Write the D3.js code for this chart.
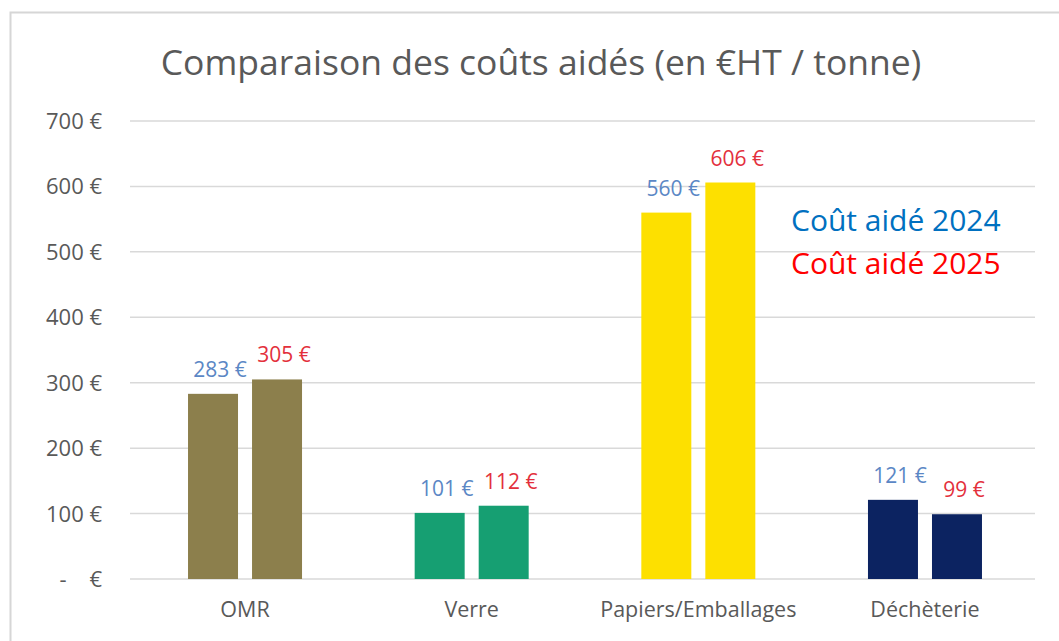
<!DOCTYPE html>
<html>
<head>
<meta charset="utf-8">
<script src="https://cdn.jsdelivr.net/npm/d3@7"></script>
<style>
  html, body { margin: 0; padding: 0; background: #fff; }
  svg { display: block; }
  text { font-family: "Open Sans", "Noto Sans", sans-serif; }
</style>
</head>
<body>
<svg id="chart" width="1059" height="641"></svg>
<script>
// Aided cost per tonne (€ HT), by waste stream
const categories = ["OMR", "Verre", "Papiers/Emballages", "Déchèterie"];
const values2024 = [283, 101, 560, 121];
const values2025 = [305, 112, 606, 99];
const seriesNames = ["Coût aidé 2024", "Coût aidé 2025"];
const yTicks = [0, 100, 200, 300, 400, 500, 600, 700];
const barColors = ["#8c7f4c", "#169f72", "#fde000", "#0c2361"];
const labelColors = ["#5b87c5", "#e3303c"];
const legendColors = ["#0070c0", "#ff0000"];

const svg = d3.select("#chart");
const W = 1059, H = 641;
const plot = { left: 130, right: 1040, gridRight: 1035, top: 121, bottom: 579 };

// outer chart frame
svg.append("rect")
  .attr("x", 10.5).attr("y", 12.5)
  .attr("width", 1070).attr("height", 660)
  .attr("fill", "#fff").attr("stroke", "#d6d6d6").attr("stroke-width", 2);

const x = d3.scaleBand()
  .domain(categories)
  .range([plot.left, plot.right])
  .paddingInner(0.497).paddingOuter(0.256);

const x1 = d3.scaleBand()
  .domain([0, 1])
  .range([0, x.bandwidth()])
  .paddingInner(0.219);

const y = d3.scaleLinear()
  .domain([0, 700])
  .range([plot.bottom, plot.top]);

// gridlines
svg.append("g")
  .selectAll("line")
  .data(yTicks)
  .join("line")
  .attr("x1", plot.left).attr("x2", plot.gridRight)
  .attr("y1", d => y(d)).attr("y2", d => y(d))
  .attr("stroke", "#d9d9d9").attr("stroke-width", 1.5);

// y axis labels (accounting format)
const yAxis = svg.append("g")
  .attr("transform", `translate(102,0)`)
  .call(d3.axisLeft(y).tickValues(yTicks).tickSize(0).tickPadding(0)
    .tickFormat(d => d === 0 ? "-    €" : d + " €"));
yAxis.select(".domain").remove();
yAxis.selectAll("text")
  .attr("fill", "#595959")
  .attr("dy", "0.34em")
  .style("font-size", "22px")
  .style("font-family", "'Open Sans', sans-serif")
  .style("white-space", "pre");

// x axis category labels
const xAxis = svg.append("g")
  .attr("transform", `translate(0,${plot.bottom})`)
  .call(d3.axisBottom(x).tickSize(0).tickPadding(23));
xAxis.select(".domain").remove();
xAxis.selectAll("text")
  .attr("fill", "#595959")
  .style("font-size", "21.5px")
  .style("font-family", "'Open Sans', sans-serif");

// bars
const rows = categories.map((c, i) => ({
  cat: c, idx: i, vals: [values2024[i], values2025[i]]
}));

const groups = svg.append("g")
  .selectAll("g")
  .data(rows)
  .join("g")
  .attr("transform", d => `translate(${x(d.cat)},0)`);

groups.selectAll("rect")
  .data(d => d.vals.map((v, s) => ({ v, s, idx: d.idx })))
  .join("rect")
  .attr("x", d => x1(d.s))
  .attr("width", x1.bandwidth())
  .attr("y", d => y(d.v))
  .attr("height", d => y(0) - y(d.v))
  .attr("fill", d => barColors[d.idx]);

// value labels
groups.selectAll("text.val")
  .data(d => d.vals.map((v, s) => ({ v, s, idx: d.idx })))
  .join("text")
  .attr("class", "val")
  .attr("x", d => x1(d.s) + x1.bandwidth() / 2 + 7)
  .attr("y", d => y(d.v) - 17)
  .attr("text-anchor", "middle")
  .attr("fill", d => labelColors[d.s])
  .style("font-size", "21px")
  .text(d => d.v + " €");

// title
svg.append("text")
  .attr("x", 541).attr("y", 75)
  .attr("text-anchor", "middle")
  .attr("fill", "#595959")
  .style("font-size", "35.5px")
  .text("Comparaison des coûts aidés (en €HT / tonne)");

// legend
svg.append("g")
  .selectAll("text")
  .data(seriesNames)
  .join("text")
  .attr("x", 791)
  .attr("y", (d, i) => 231 + i * 43)
  .attr("fill", (d, i) => legendColors[i])
  .style("font-size", "30px")
  .text(d => d);
</script>
</body>
</html>
